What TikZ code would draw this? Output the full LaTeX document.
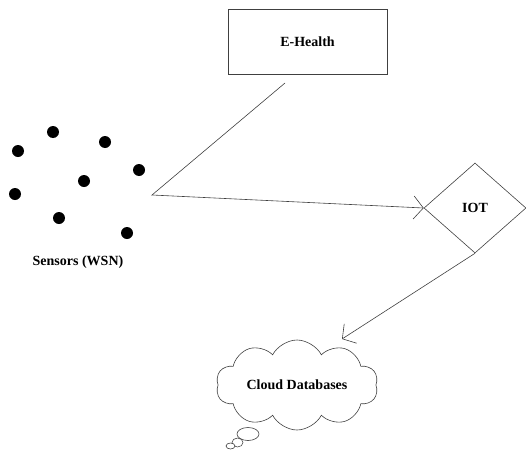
\documentclass[tikz,border=0pt]{standalone}
\usepackage{fontspec}
\setmainfont{Liberation Serif}
\usetikzlibrary{shapes.geometric,shapes.symbols,arrows.meta}

\begin{document}
\begin{tikzpicture}[x=1pt,y=-1pt,
    wire/.style={draw=black!75, line width=0.6pt},
    txt/.style={font=\fontsize{14}{16}\selectfont\bfseries},
    sensor/.style={circle, fill=black, inner sep=0pt, minimum size=12pt},
    tip/.style={-{Straight Barb[angle=100:15pt]}}]
    \useasboundingbox (0,0) rectangle (526,452);

    % boxes
    \node[wire, rectangle, minimum width=159pt, minimum height=65pt, txt] (ehealth) at (307.5,41.5) {E-Health};
    \node[wire, diamond, minimum width=102pt, minimum height=90pt, inner sep=0pt, txt] (iot) at (475,208) {IOT};
    \node[wire, cloud, cloud puffs=10, cloud puff arc=125, cloud ignores aspect,
        minimum width=162pt, minimum height=90pt, txt] (cloud) at (297,385) {Cloud Databases};

    % thought bubbles
    \draw[wire, fill=white] (248,434) ellipse (11pt and 6.5pt);
    \draw[wire, fill=white] (237.5,442.5) ellipse (5.5pt and 4.5pt);
    \draw[wire, fill=white] (230.5,446) ellipse (4.5pt and 3pt);

    % sensors
    \node[sensor] (s1) at (53,132) {};
    \node[sensor] (s2) at (18,151) {};
    \node[sensor] (s3) at (105,142) {};
    \node[sensor] (s4) at (139,170) {};
    \node[sensor] (s5) at (84,181) {};
    \node[sensor] (s6) at (15,194) {};
    \node[sensor] (s7) at (59,218) {};
    \node[sensor] (s8) at (127,233) {};
    \node[txt] (wsn) at (78,262) {Sensors (WSN)};

    % links
    \coordinate (hstart) at (285,83);
    \coordinate (bend) at (152,195);
    \draw[wire, tip] (hstart) -- (bend) -- (iot.west);

    \coordinate (cloudtop) at (342,339);
    \draw[wire, tip] (iot.south) -- (cloudtop);
\end{tikzpicture}
\end{document}
